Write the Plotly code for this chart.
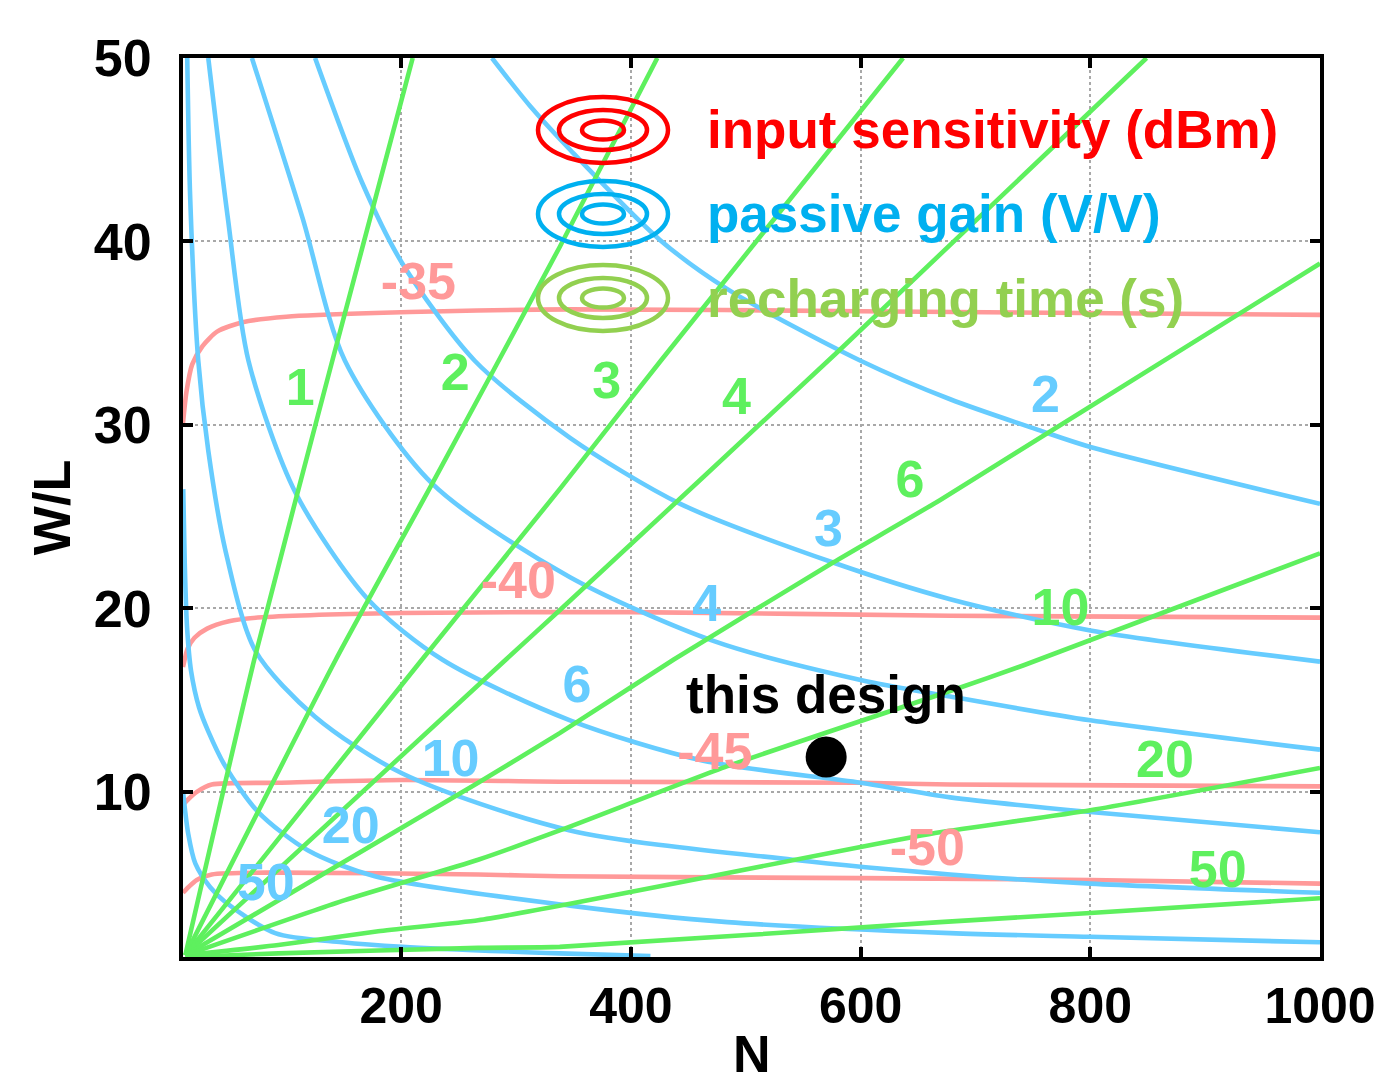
import plotly.graph_objects as go

# ---------------- data ----------------
# passive gain contours (V/V)
gain_levels = ["2", "3", "4", "6", "10", "20", "50"]
gain2_N = [279, 312, 347, 425, 484, 600, 678, 756, 800, 1000]
gain2_WL = [50, 47.4, 45.0, 40.1, 37.4, 33.5, 31.4, 29.7, 28.8, 25.7]
gain3_N = [125, 166, 201, 264, 347, 443, 576, 678, 800, 1000]
gain3_WL = [50, 43.2, 38.8, 33.5, 29.3, 25.7, 22.5, 20.5, 18.8, 17.1]
gain4_N = [70, 114, 151, 227, 347, 473, 600, 678, 800, 1000]
gain4_WL = [50, 41.3, 33.5, 26.8, 21.7, 18.2, 16.1, 15.2, 13.9, 12.3]
gain6_N = [32, 49, 67, 108, 171, 236, 347, 463, 600, 678, 800, 1000]
gain6_WL = [50, 41.3, 33.5, 26.3, 20.5, 17.2, 13.9, 11.7, 10.5, 9.7, 8.9, 7.8]
gain10_N = [13.7, 16.3, 23.3, 32, 46.8, 72.9, 125, 201, 347, 541, 678, 800, 1000]
gain10_WL = [50, 42.3, 33.5, 28.6, 23.2, 17.7, 14.1, 11.0, 7.9, 6.3, 5.5, 5.0, 4.5]
gain20_N = [10.2, 11.5, 13.5, 17, 24, 32, 46.8, 75.5, 119, 177, 347, 484, 678, 800, 1000]
gain20_WL = [26.5, 22.5, 19.0, 16.6, 14.6, 13.3, 11.4, 8.9, 6.8, 5.4, 3.8, 2.9, 2.3, 2.1, 1.8]
gain50_N = [10.2, 14.6, 20.7, 33.7, 46.8, 90.3, 148.6, 201, 338, 417]
gain50_WL = [9.9, 7.7, 6.1, 4.8, 4.0, 2.3, 1.8, 1.55, 1.2, 1.05]

# recharging time contours (s)
time_levels = ["1", "2", "3", "4", "6", "10", "20", "50"]
t1_N = [12, 72, 140, 210]
t1_WL = [1.1, 17.2, 33.5, 50]
t2_N = [12, 143, 227, 338, 423]
t2_WL = [1.1, 17.2, 26.8, 39.7, 50]
t3_N = [12, 218, 338, 426, 637]
t3_WL = [1.1, 17.2, 26.5, 33.5, 50]
t4_N = [12, 291, 338, 582, 849]
t4_WL = [1.1, 17.2, 19.9, 34.1, 50]
t6_N = [12, 267, 338, 437, 576, 669, 1000]
t6_WL = [1.1, 10.5, 13.2, 17.2, 22.5, 25.9, 38.8]
t10_N = [12, 151, 267, 338, 484, 678, 742, 1000]
t10_WL = [1.1, 4.1, 6.3, 7.9, 11.4, 15.5, 16.9, 23.0]
t20_N = [12, 93, 180, 267, 347, 600, 669, 800, 1000]
t20_WL = [1.1, 1.65, 2.4, 3.0, 3.9, 7.0, 7.8, 9.0, 11.3]
t50_N = [12, 93, 267, 338, 669, 800, 1000]
t50_WL = [1.0, 1.2, 1.5, 1.55, 2.9, 3.4, 4.2]

# input sensitivity contours (dBm)
sens_levels = ["-35", "-40", "-45", "-50"]
s35_N = [10, 13, 18, 27, 40, 62, 100, 177, 347, 600, 1000]
s35_WL = [30.1, 31.8, 33.3, 34.3, 35.1, 35.6, 35.9, 36.1, 36.3, 36.2, 36.0]
s40_N = [10, 14, 20, 31, 50, 75, 200, 400, 678, 1000]
s40_WL = [16.8, 17.8, 18.4, 18.9, 19.3, 19.5, 19.75, 19.8, 19.6, 19.5]
s45_N = [10, 14.6, 22, 35, 93, 201, 347, 600, 678, 1000]
s45_WL = [9.3, 9.6, 10.0, 10.4, 10.5, 10.65, 10.55, 10.5, 10.4, 10.3]
s50_N = [10, 14.6, 22, 35, 93, 267, 338, 600, 800, 1000]
s50_WL = [4.5, 4.8, 5.2, 5.5, 5.6, 5.5, 5.4, 5.3, 5.2, 5.0]

# contour label positions
gain_label_N = [761, 572, 466, 353, 243, 156, 82]
gain_label_WL = [31.4, 24.1, 20.0, 15.6, 11.6, 7.9, 4.8]
time_label_N = [112, 247, 379, 492, 643, 774, 865, 911]
time_label_WL = [31.8, 32.6, 32.2, 31.3, 26.8, 19.8, 11.5, 5.5]
sens_label_N = [215, 302, 473, 658]
sens_label_WL = [37.6, 21.3, 11.95, 6.7]

# this design
design_N = [570]
design_WL = [11.9]

legend_names = ["input sensitivity (dBm)", "passive gain (V/V)", "recharging time (s)"]

# ---------------- style ----------------
FONT = "Liberation Sans, Arial, Helvetica, sans-serif"
BLUE = "#66CCFF"
GREEN = "#5EF05E"
RED = "#FF9999"
LEG_COLORS = ["#FF0000", "#00B0F0", "#92D050"]
FS = 52
LW = 4.6

fig = go.Figure()

sens_curves = [(s35_N, s35_WL), (s40_N, s40_WL), (s45_N, s45_WL), (s50_N, s50_WL)]
gain_curves = [(gain2_N, gain2_WL), (gain3_N, gain3_WL), (gain4_N, gain4_WL),
               (gain6_N, gain6_WL), (gain10_N, gain10_WL), (gain20_N, gain20_WL),
               (gain50_N, gain50_WL)]
time_curves = [(t1_N, t1_WL), (t2_N, t2_WL), (t3_N, t3_WL), (t4_N, t4_WL),
               (t6_N, t6_WL), (t10_N, t10_WL), (t20_N, t20_WL), (t50_N, t50_WL)]

for xs, ys in sens_curves:
    fig.add_trace(go.Scatter(x=xs, y=ys, mode="lines", showlegend=False,
                             line=dict(color=RED, width=LW, shape="spline", smoothing=0.7)))
for xs, ys in gain_curves:
    fig.add_trace(go.Scatter(x=xs, y=ys, mode="lines", showlegend=False,
                             line=dict(color=BLUE, width=LW, shape="spline", smoothing=0.8)))
for xs, ys in time_curves:
    fig.add_trace(go.Scatter(x=xs, y=ys, mode="lines", showlegend=False,
                             line=dict(color=GREEN, width=LW, shape="spline", smoothing=0.5)))

bold = dict(family=FONT, size=FS, weight="bold")
fig.add_trace(go.Scatter(x=sens_label_N, y=sens_label_WL, mode="text", text=sens_levels,
                         textfont=dict(**bold, color=RED), showlegend=False))
fig.add_trace(go.Scatter(x=gain_label_N, y=gain_label_WL, mode="text", text=gain_levels,
                         textfont=dict(**bold, color=BLUE), showlegend=False))
fig.add_trace(go.Scatter(x=time_label_N, y=time_label_WL, mode="text", text=time_levels,
                         textfont=dict(**bold, color=GREEN), showlegend=False))

fig.add_trace(go.Scatter(x=design_N, y=design_WL, mode="markers", showlegend=False,
                         marker=dict(color="black", size=41)))
fig.add_annotation(x=design_N[0], y=design_WL[0], text="this design", showarrow=False,
                   yshift=63, font=dict(family=FONT, size=53, weight="bold", color="black"))

# ---------------- custom legend (concentric ellipses) ----------------
L, R, T, B = 183, 56, 58, 131
W, H = 1376, 1088
PW, PH = W - L - R, H - T - B


def px(xp):
    return (xp - L) / PW


def py(yp):
    return (H - B - yp) / PH


legend_y = [130, 214, 298]
for name, col, yc in zip(legend_names, LEG_COLORS, legend_y):
    for rx, ry in [(65, 33), (44, 20), (21, 9.5)]:
        fig.add_shape(type="circle", xref="paper", yref="paper",
                      x0=px(603 - rx), x1=px(603 + rx), y0=py(yc + ry), y1=py(yc - ry),
                      line=dict(color=col, width=4.5), layer="above")
    fig.add_annotation(xref="paper", yref="paper", x=px(705), y=py(yc), text=name,
                       showarrow=False, xanchor="left", yanchor="middle",
                       font=dict(family=FONT, size=53, weight="bold", color=col))

# x-axis title placed in the bottom margin
fig.add_annotation(xref="paper", yref="paper", x=0.5, y=py(1054), text="N",
                   showarrow=False, xanchor="center", yanchor="middle",
                   font=dict(family=FONT, size=FS, weight="bold", color="black"))

axis_common = dict(
    showline=True, linewidth=4, linecolor="black", mirror="ticks",
    ticks="inside", ticklen=10, tickwidth=4, tickcolor="black",
    showgrid=True, gridcolor="#A8A8A8", gridwidth=2, griddash="dot",
    zeroline=False,
)

fig.update_xaxes(range=[10, 1000], tickvals=[200, 400, 600, 800, 1000],
                 tickfont=dict(family=FONT, size=50, weight="bold", color="black"),
                 ticklabelstandoff=2, **axis_common)
fig.update_yaxes(range=[1, 50], tickvals=[10, 20, 30, 40, 50],
                 tickfont=dict(family=FONT, size=FS, weight="bold", color="black"),
                 title=dict(text="W/L", font=dict(family=FONT, size=FS, weight="bold", color="black"),
                            standoff=8),
                 ticklabelstandoff=17, **axis_common)

fig.update_layout(width=W, height=H, margin=dict(l=L, r=R, t=T, b=B, autoexpand=False),
                  plot_bgcolor="white", paper_bgcolor="white", showlegend=False)

fig.write_html("out.html")
